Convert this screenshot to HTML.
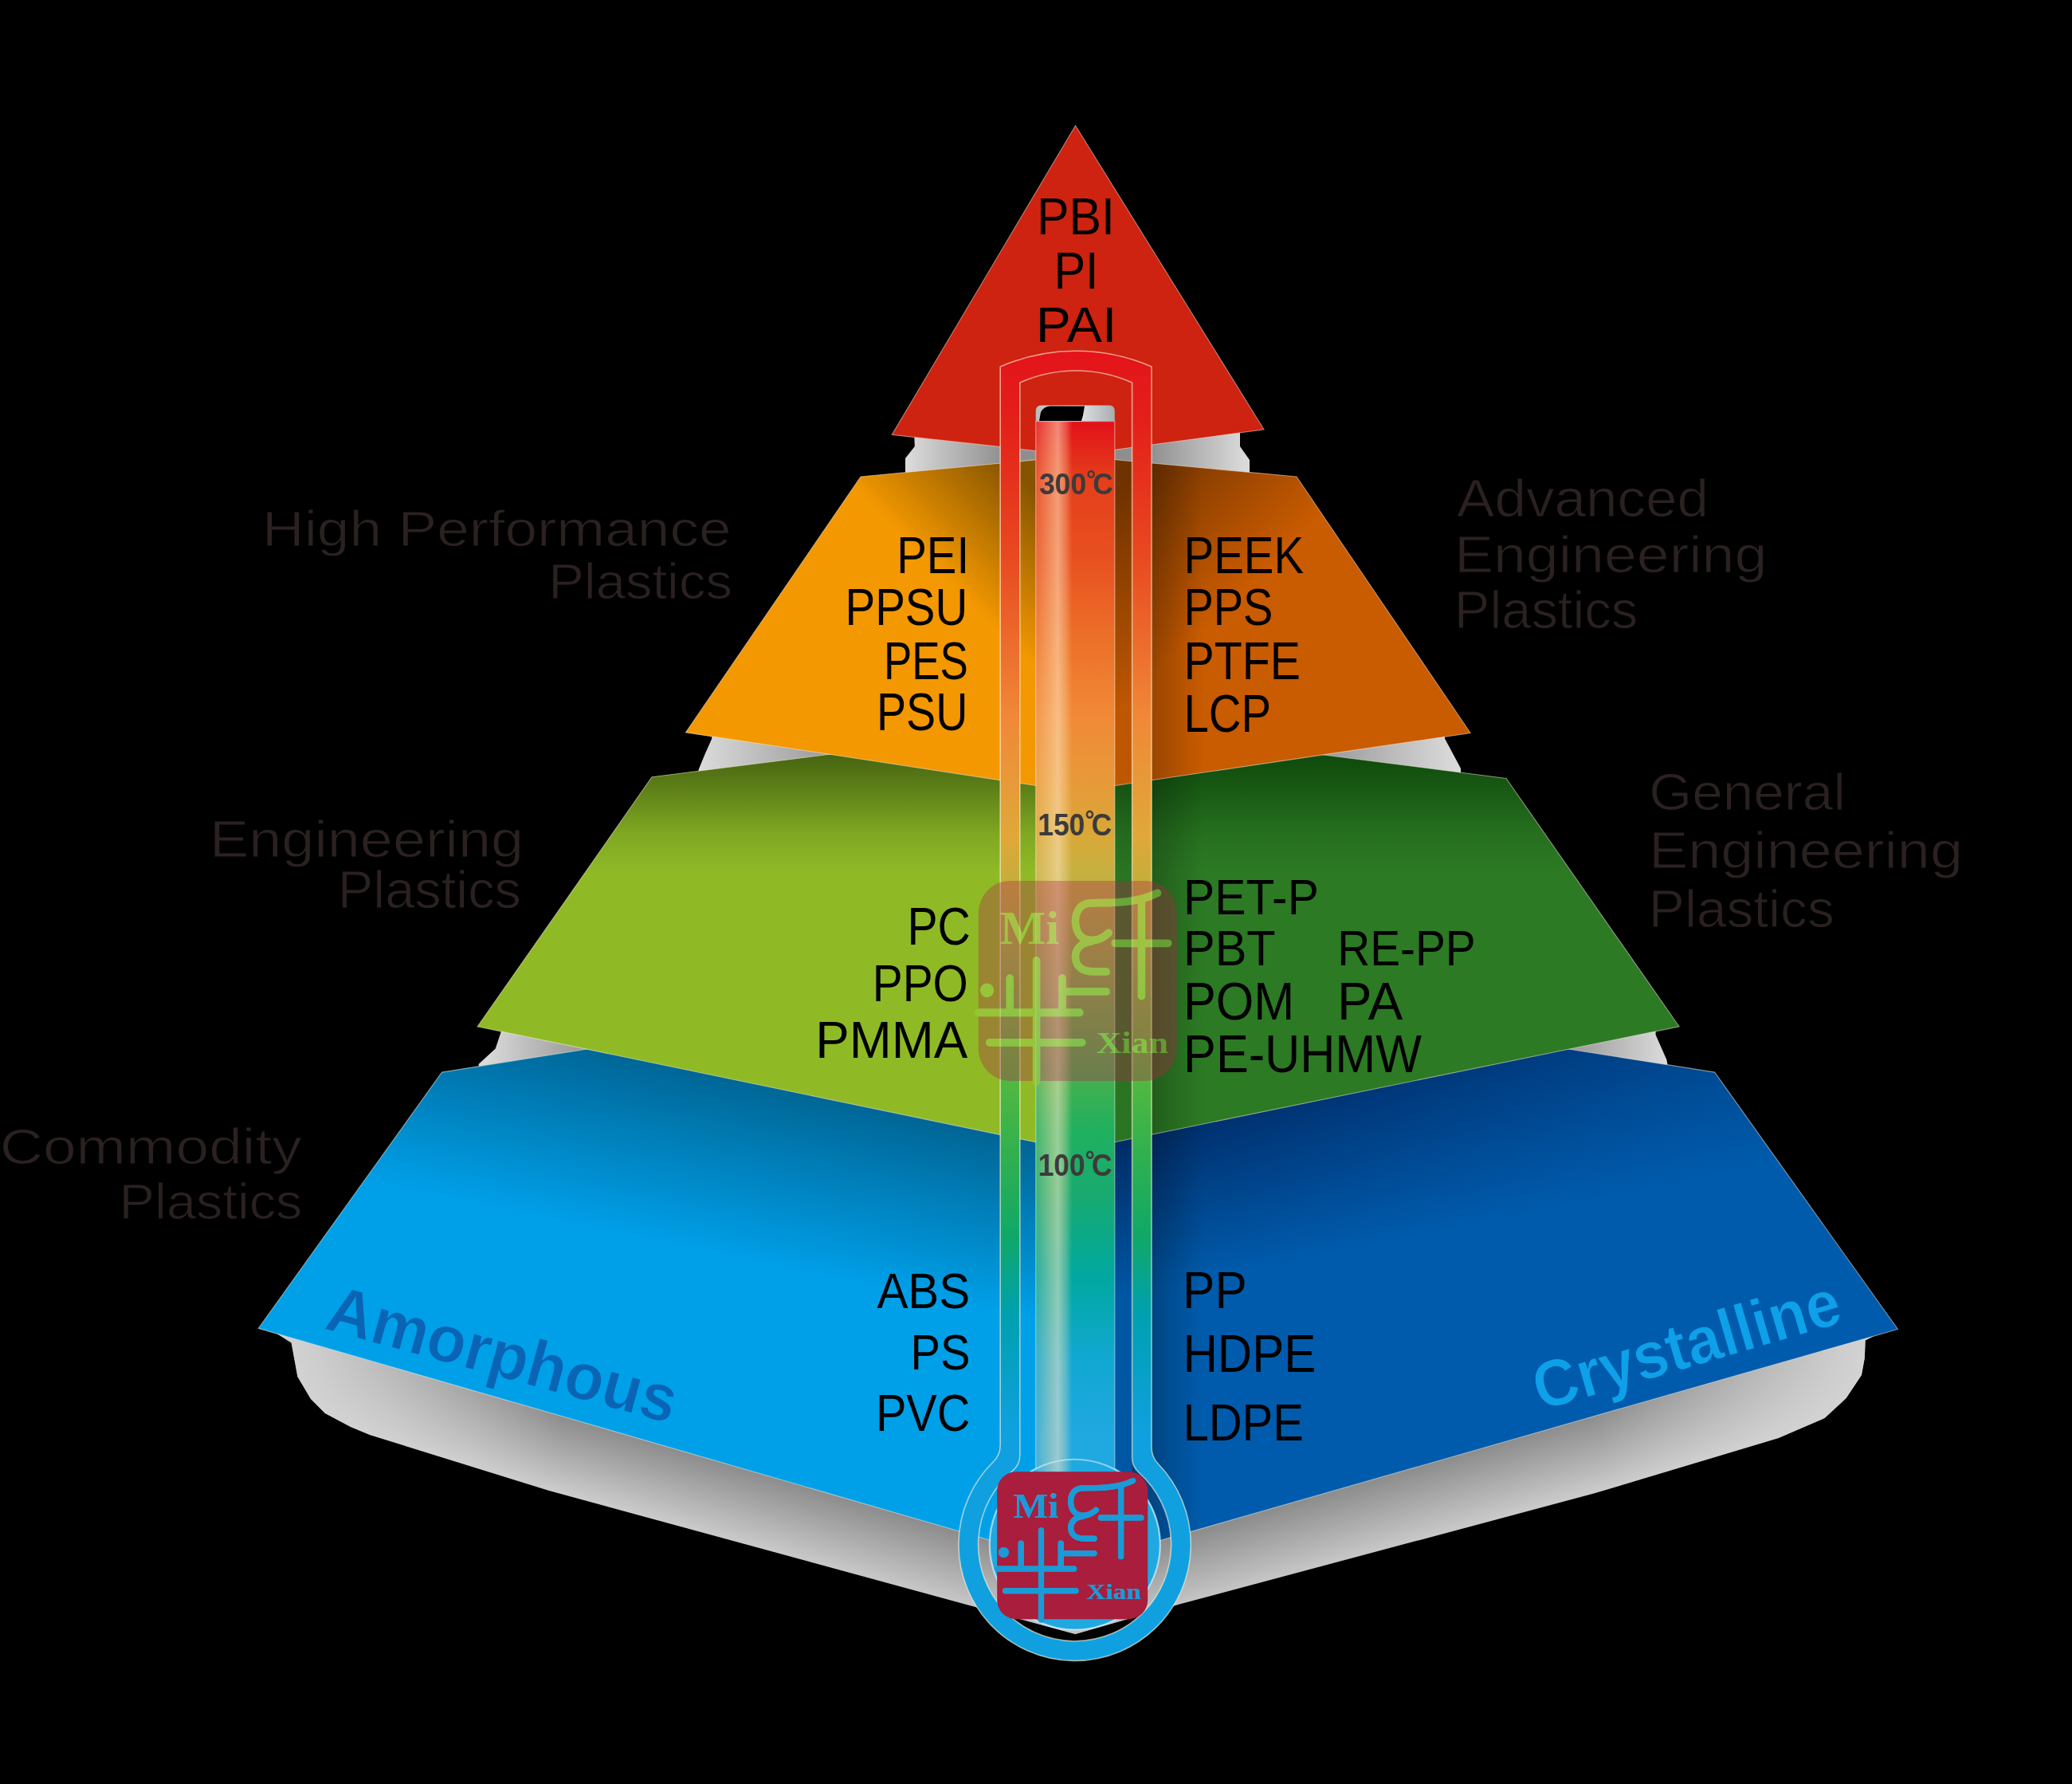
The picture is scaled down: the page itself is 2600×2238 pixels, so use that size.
<!DOCTYPE html>
<html><head><meta charset="utf-8"><style>
html,body{margin:0;padding:0;background:#000;}
svg{display:block;}
text{font-family:"Liberation Sans",sans-serif;}
text.serif{font-family:"Liberation Serif",serif;}
</style></head><body>
<svg width="2600" height="2238" viewBox="0 0 2600 2238">
<defs>
<linearGradient id="shL" gradientUnits="userSpaceOnUse" x1="700" y1="1774" x2="672" y2="1870"><stop offset="0" stop-color="#8c8c8c" stop-opacity="1"/><stop offset="1" stop-color="#d0d0d0" stop-opacity="1"/></linearGradient>
<linearGradient id="shR" gradientUnits="userSpaceOnUse" x1="2000" y1="1775" x2="2028" y2="1871"><stop offset="0" stop-color="#8c8c8c" stop-opacity="1"/><stop offset="1" stop-color="#d0d0d0" stop-opacity="1"/></linearGradient>
<linearGradient id="shLo" gradientUnits="userSpaceOnUse" x1="370" y1="1700" x2="700" y2="1800"><stop offset="0" stop-color="#d8d8d8" stop-opacity="0.9"/><stop offset="1" stop-color="#d8d8d8" stop-opacity="0"/></linearGradient>
<linearGradient id="shRo" gradientUnits="userSpaceOnUse" x1="2335" y1="1700" x2="2005" y2="1800"><stop offset="0" stop-color="#d8d8d8" stop-opacity="0.9"/><stop offset="1" stop-color="#d8d8d8" stop-opacity="0"/></linearGradient>
<linearGradient id="g1L" gradientUnits="userSpaceOnUse" x1="1140" y1="0" x2="1260" y2="0"><stop offset="0" stop-color="#dadada" stop-opacity="1"/><stop offset="1" stop-color="#8e8e8e" stop-opacity="1"/></linearGradient>
<linearGradient id="g1R" gradientUnits="userSpaceOnUse" x1="1562" y1="0" x2="1442" y2="0"><stop offset="0" stop-color="#dadada" stop-opacity="1"/><stop offset="1" stop-color="#8e8e8e" stop-opacity="1"/></linearGradient>
<linearGradient id="g2L" gradientUnits="userSpaceOnUse" x1="880" y1="0" x2="1070" y2="0"><stop offset="0" stop-color="#dadada" stop-opacity="1"/><stop offset="1" stop-color="#8e8e8e" stop-opacity="1"/></linearGradient>
<linearGradient id="g2R" gradientUnits="userSpaceOnUse" x1="1825" y1="0" x2="1635" y2="0"><stop offset="0" stop-color="#dadada" stop-opacity="1"/><stop offset="1" stop-color="#8e8e8e" stop-opacity="1"/></linearGradient>
<linearGradient id="g3L" gradientUnits="userSpaceOnUse" x1="610" y1="0" x2="750" y2="0"><stop offset="0" stop-color="#dadada" stop-opacity="1"/><stop offset="1" stop-color="#8e8e8e" stop-opacity="1"/></linearGradient>
<linearGradient id="g3R" gradientUnits="userSpaceOnUse" x1="2090" y1="0" x2="1950" y2="0"><stop offset="0" stop-color="#dadada" stop-opacity="1"/><stop offset="1" stop-color="#8e8e8e" stop-opacity="1"/></linearGradient>
<linearGradient id="tubeSh" gradientUnits="userSpaceOnUse" x1="1399" y1="0" x2="1510" y2="0"><stop offset="0" stop-color="#000" stop-opacity="0.04"/><stop offset="0.19" stop-color="#000" stop-opacity="0.06"/><stop offset="0.2" stop-color="#000" stop-opacity="0.32"/><stop offset="0.5" stop-color="#000" stop-opacity="0.2"/><stop offset="1" stop-color="#000" stop-opacity="0"/></linearGradient>
<linearGradient id="bluSL" gradientUnits="userSpaceOnUse" x1="974.0" y1="1365.4" x2="929.5" y2="1580.8"><stop offset="0" stop-color="#002a40" stop-opacity="0.5"/><stop offset="1" stop-color="#002a40" stop-opacity="0"/></linearGradient>
<linearGradient id="bluSLm" gradientUnits="userSpaceOnUse" x1="1300" y1="0" x2="560" y2="0"><stop offset="0" stop-color="#fff" stop-opacity="1"/><stop offset="1" stop-color="#fff" stop-opacity="0.95"/></linearGradient>
<mask id="bluSLM" maskUnits="userSpaceOnUse" x="0" y="0" width="2600" height="2238"><rect width="2600" height="2238" fill="url(#bluSLm)"/></mask>
<linearGradient id="bluSR" gradientUnits="userSpaceOnUse" x1="1728.0" y1="1365.4" x2="1766.2" y2="1551.5"><stop offset="0" stop-color="#001040" stop-opacity="0.6"/><stop offset="1" stop-color="#001040" stop-opacity="0"/></linearGradient>
<linearGradient id="bluSRm" gradientUnits="userSpaceOnUse" x1="1400" y1="0" x2="2140" y2="0"><stop offset="0" stop-color="#fff" stop-opacity="1"/><stop offset="1" stop-color="#fff" stop-opacity="0.55"/></linearGradient>
<mask id="bluSRM" maskUnits="userSpaceOnUse" x="0" y="0" width="2600" height="2238"><rect width="2600" height="2238" fill="url(#bluSRm)"/></mask>
<linearGradient id="grnSL" gradientUnits="userSpaceOnUse" x1="0" y1="935" x2="0" y2="1095"><stop offset="0" stop-color="#102400" stop-opacity="0.62"/><stop offset="0.35" stop-color="#102400" stop-opacity="0.38"/><stop offset="0.7" stop-color="#102400" stop-opacity="0.12"/><stop offset="1" stop-color="#102400" stop-opacity="0"/></linearGradient>
<linearGradient id="grnSR" gradientUnits="userSpaceOnUse" x1="0" y1="935" x2="0" y2="1095"><stop offset="0" stop-color="#003200" stop-opacity="0.72"/><stop offset="0.35" stop-color="#003200" stop-opacity="0.45"/><stop offset="0.7" stop-color="#003200" stop-opacity="0.14"/><stop offset="1" stop-color="#003200" stop-opacity="0"/></linearGradient>
<linearGradient id="oraSL" gradientUnits="userSpaceOnUse" x1="1262" y1="578" x2="1150" y2="690"><stop offset="0" stop-color="#000" stop-opacity="0.45"/><stop offset="1" stop-color="#000" stop-opacity="0"/></linearGradient>
<linearGradient id="oraSR" gradientUnits="userSpaceOnUse" x1="1440" y1="580" x2="1580" y2="720"><stop offset="0" stop-color="#000" stop-opacity="0.42"/><stop offset="1" stop-color="#000" stop-opacity="0"/></linearGradient>
<linearGradient id="band" gradientUnits="userSpaceOnUse" x1="0" y1="440" x2="0" y2="2083"><stop offset="0" stop-color="#e3141a" stop-opacity="1"/><stop offset="0.055" stop-color="#e3201a" stop-opacity="1"/><stop offset="0.158" stop-color="#e84a20" stop-opacity="1"/><stop offset="0.28" stop-color="#f08838" stop-opacity="1"/><stop offset="0.371" stop-color="#e0a838" stop-opacity="1"/><stop offset="0.46" stop-color="#98b840" stop-opacity="1"/><stop offset="0.56" stop-color="#50b840" stop-opacity="1"/><stop offset="0.615" stop-color="#30b050" stop-opacity="1"/><stop offset="0.676" stop-color="#10a868" stop-opacity="1"/><stop offset="0.736" stop-color="#00a0b0" stop-opacity="1"/><stop offset="0.828" stop-color="#10a0e0" stop-opacity="1"/><stop offset="1" stop-color="#10a0e0" stop-opacity="1"/></linearGradient>
<linearGradient id="merc" gradientUnits="userSpaceOnUse" x1="0" y1="528" x2="0" y2="2045"><stop offset="0" stop-color="#e3101a" stop-opacity="1"/><stop offset="0.047" stop-color="#e43e1a" stop-opacity="1"/><stop offset="0.113" stop-color="#e85020" stop-opacity="1"/><stop offset="0.18" stop-color="#ec7028" stop-opacity="1"/><stop offset="0.245" stop-color="#f08a38" stop-opacity="1"/><stop offset="0.295" stop-color="#e89838" stop-opacity="1"/><stop offset="0.344" stop-color="#d8a838" stop-opacity="1"/><stop offset="0.37" stop-color="#c8b040" stop-opacity="1"/><stop offset="0.46" stop-color="#84b248" stop-opacity="1"/><stop offset="0.548" stop-color="#40b050" stop-opacity="1"/><stop offset="0.588" stop-color="#20b060" stop-opacity="1"/><stop offset="0.64" stop-color="#18aa70" stop-opacity="1"/><stop offset="0.707" stop-color="#00a8a0" stop-opacity="1"/><stop offset="0.773" stop-color="#10a8d0" stop-opacity="1"/><stop offset="0.839" stop-color="#20a8e0" stop-opacity="1"/><stop offset="1" stop-color="#20a8e0" stop-opacity="1"/></linearGradient>
<linearGradient id="hl" gradientUnits="userSpaceOnUse" x1="1299.7" y1="0" x2="1398.8" y2="0"><stop offset="0" stop-color="#ffe0b0" stop-opacity="0.15"/><stop offset="0.2" stop-color="#ffe0b0" stop-opacity="0.45"/><stop offset="0.28" stop-color="#ffe8c8" stop-opacity="0.55"/><stop offset="0.38" stop-color="#ffe0b0" stop-opacity="0.3"/><stop offset="0.46" stop-color="#ffe0b0" stop-opacity="0.0"/><stop offset="1" stop-color="#ffffff" stop-opacity="0"/></linearGradient>
<linearGradient id="cap" gradientUnits="userSpaceOnUse" x1="1299.7" y1="0" x2="1398.8" y2="0"><stop offset="0" stop-color="#b8bcc0" stop-opacity="1"/><stop offset="0.5" stop-color="#e8eaec" stop-opacity="1"/><stop offset="1" stop-color="#a8acb0" stop-opacity="1"/></linearGradient>
<mask id="lgm1" maskUnits="userSpaceOnUse" x="-20" y="-20" width="240" height="240"><rect x="-20" y="-20" width="240" height="240" fill="#fff"/><path d="M30,90 L30,118.3 M55.3,73.6 L55.3,186 M80,90 L80,118.3 M80,102.4 L121.8,102.4 M0,121.8 L96.5,121.8 M10.6,149.5 L98.8,149.5 M155.4,17 L155.4,106.5 M130.1,57.7 L180.7,57.7 M170.7,11.2 C150,22 120,20 106.5,20.6 C96,21 92,30 92.4,38.2 C93,50 100,55 108,55 C115,55 120,52 124.2,48 M108,56 C98,57 92,63 92.4,71.2 C93,80 100,84 110,84 L121.8,84" stroke="#000" stroke-width="7.2" stroke-linecap="round" fill="none"/><circle cx="8.2" cy="101.2" r="6.5" fill="#000"/><text x="20.6" y="58.3" class="serif" font-weight="bold" font-size="44" fill="#000" textLength="56.5" lengthAdjust="spacingAndGlyphs">Mi</text><text x="112.4" y="159.5" class="serif" font-weight="bold" font-size="28" fill="#000" textLength="68.3" lengthAdjust="spacingAndGlyphs">Xian</text></mask>
<mask id="lgm2" maskUnits="userSpaceOnUse" x="-20" y="-20" width="240" height="240"><rect x="-20" y="-20" width="240" height="240" fill="#fff"/><path d="M30,90 L30,118.3 M55.3,73.6 L55.3,186 M80,90 L80,118.3 M80,102.4 L121.8,102.4 M0,121.8 L96.5,121.8 M10.6,149.5 L98.8,149.5 M155.4,17 L155.4,106.5 M130.1,57.7 L180.7,57.7 M170.7,11.2 C150,22 120,20 106.5,20.6 C96,21 92,30 92.4,38.2 C93,50 100,55 108,55 C115,55 120,52 124.2,48 M108,56 C98,57 92,63 92.4,71.2 C93,80 100,84 110,84 L121.8,84" stroke="#000" stroke-width="7.2" stroke-linecap="round" fill="none"/><circle cx="8.2" cy="101.2" r="6.5" fill="#000"/><text x="20.6" y="58.3" class="serif" font-weight="bold" font-size="44" fill="#000" textLength="56.5" lengthAdjust="spacingAndGlyphs">Mi</text><text x="112.4" y="159.5" class="serif" font-weight="bold" font-size="28" fill="#000" textLength="68.3" lengthAdjust="spacingAndGlyphs">Xian</text></mask>
</defs>
<rect width="2600" height="2238" fill="#000"/>
<polygon points="330.0,1662.0 365.6,1684.4 373.4,1726.9 390.0,1755.0 408.0,1773.0 440.0,1790.0 464.0,1800.0 688.0,1869.7 1213.0,2013.0 1349.0,2050.0 1478.0,2013.0 1349.0,1900.0" fill="url(#shL)"/>
<polygon points="1349.0,1900.0 1349.0,2050.0 1478.0,2013.0 2000.0,1873.6 2231.7,1804.0 2289.6,1779.0 2316.6,1753.9 2335.9,1725.0 2339.8,1703.7 2340.7,1681.5 2378.0,1662.0" fill="url(#shR)"/>
<polygon points="330.0,1662.0 365.6,1684.4 373.4,1726.9 390.0,1755.0 408.0,1773.0 440.0,1790.0 464.0,1800.0 688.0,1869.7 1213.0,2013.0 1349.0,2050.0 1478.0,2013.0 1349.0,1900.0" fill="url(#shLo)"/>
<polygon points="1349.0,1900.0 1349.0,2050.0 1478.0,2013.0 2000.0,1873.6 2231.7,1804.0 2289.6,1779.0 2316.6,1753.9 2335.9,1725.0 2339.8,1703.7 2340.7,1681.5 2378.0,1662.0" fill="url(#shRo)"/>
<polygon points="1147.0,540.0 1147.8,560.0 1136.0,575.0 1136.0,600.0 1349.0,600.0 1349.0,530.0" fill="url(#g1L)"/>
<polygon points="1349.0,530.0 1349.0,600.0 1568.0,600.0 1568.0,577.0 1556.0,560.0 1556.0,535.0" fill="url(#g1R)"/>
<polygon points="893.0,915.0 893.3,926.6 884.4,946.6 876.6,965.5 876.0,985.0 1349.0,1000.0 1349.0,900.0" fill="url(#g2L)"/>
<polygon points="1349.0,900.0 1349.0,1000.0 1833.0,985.0 1833.0,964.0 1813.0,926.6 1813.0,915.0" fill="url(#g2R)"/>
<polygon points="628.6,1280.0 628.6,1294.7 621.7,1315.6 600.8,1334.7 600.0,1350.0 1349.0,1360.0 1349.0,1210.0" fill="url(#g3L)"/>
<polygon points="1349.0,1210.0 1349.0,1360.0 2095.0,1350.0 2091.4,1329.5 2077.6,1298.2 2077.6,1280.0" fill="url(#g3R)"/>
<polygon points="554.5,1345.1 1349.0,1218.0 1349.0,1963.0 324.2,1666.4" fill="#00a0e9"/>
<polygon points="1349.0,1218.0 2151.6,1345.1 2381.4,1667.5 1349.0,1963.0" fill="#005bac"/>
<polygon points="554.5,1345.1 1349.0,1218.0 1349.0,1963.0 324.2,1666.4" fill="url(#bluSL)" mask="url(#bluSLM)"/>
<polygon points="1349.0,1218.0 2151.6,1345.1 2381.4,1667.5 1349.0,1963.0" fill="url(#bluSR)" mask="url(#bluSRM)"/>
<polygon points="1349.0,1218.0 2151.6,1345.1 2381.4,1667.5 1349.0,1963.0" fill="url(#tubeSh)"/>
<polygon points="554.5,1345.1 1349.0,1218.0 2151.6,1345.1 2381.4,1667.5 1349.0,1963.0 324.2,1666.4" fill="none" stroke="#fff0e0" stroke-opacity="0.5" stroke-width="1.1"/>
<polygon points="818.0,974.7 1349.0,907.0 1349.0,1443.0 599.1,1287.8" fill="#8fba26"/>
<polygon points="1349.0,907.0 1890.0,976.4 2107.1,1287.8 1349.0,1443.0" fill="#2c7a24"/>
<polygon points="818.0,974.7 1349.0,907.0 1349.0,1443.0 599.1,1287.8" fill="url(#grnSL)"/>
<polygon points="1349.0,907.0 1890.0,976.4 2107.1,1287.8 1349.0,1443.0" fill="url(#grnSR)"/>
<polygon points="1349.0,907.0 1890.0,976.4 2107.1,1287.8 1349.0,1443.0" fill="url(#tubeSh)"/>
<polygon points="818.0,974.7 1349.0,907.0 1890.0,976.4 2107.1,1287.8 1349.0,1443.0 599.1,1287.8" fill="none" stroke="#fff0e0" stroke-opacity="0.5" stroke-width="1.1"/>
<polygon points="1080.0,598.0 1349.0,572.0 1349.0,993.0 860.4,918.9" fill="#f39800"/>
<polygon points="1349.0,572.0 1627.0,598.0 1845.2,919.5 1349.0,993.0" fill="#c95b00"/>
<polygon points="1080.0,598.0 1349.0,572.0 1349.0,993.0 860.4,918.9" fill="url(#oraSL)"/>
<polygon points="1349.0,572.0 1627.0,598.0 1845.2,919.5 1349.0,993.0" fill="url(#oraSR)"/>
<polygon points="1349.0,572.0 1627.0,598.0 1845.2,919.5 1349.0,993.0" fill="url(#tubeSh)"/>
<polygon points="1080.0,598.0 1349.0,572.0 1627.0,598.0 1845.2,919.5 1349.0,993.0 860.4,918.9" fill="none" stroke="#fff0e0" stroke-opacity="0.5" stroke-width="1.1"/>
<polygon points="1349.5,157.5 1586.0,538.8 1349.0,571.0 1119.2,545.4" fill="#cd2310" stroke="#fff0e0" stroke-opacity="0.5" stroke-width="1.1"/>
<text x="0" y="0" font-size="83" font-weight="bold" fill="#0a64b4" stroke="#00a0e9" stroke-width="1" textLength="452" lengthAdjust="spacingAndGlyphs" transform="translate(405.3,1666.8) rotate(15.3)">Amorphous</text>
<text x="0" y="0" font-size="83" font-weight="bold" fill="#0ea0e8" stroke="#005bac" stroke-width="1" textLength="398" lengthAdjust="spacingAndGlyphs" transform="translate(1933,1770) rotate(-16.3)">Crystalline</text>
<text x="1300.9" y="294.3" font-size="63.92" fill="#000" font-weight="normal" textLength="98.0" lengthAdjust="spacingAndGlyphs" >PBI</text>
<text x="1322.4" y="361.8" font-size="64.69" fill="#000" font-weight="normal" textLength="56.2" lengthAdjust="spacingAndGlyphs" >PI</text>
<text x="1299.7" y="429.4" font-size="63.77" fill="#000" font-weight="normal" textLength="101.6" lengthAdjust="spacingAndGlyphs" >PAI</text>
<text x="1125.2" y="719.2" font-size="65.47" fill="#000" font-weight="normal" textLength="90.9" lengthAdjust="spacingAndGlyphs" >PEI</text>
<text x="1060.5" y="784.2" font-size="65.47" fill="#000" font-weight="normal" textLength="153.7" lengthAdjust="spacingAndGlyphs" >PPSU</text>
<text x="1108.9" y="851.5" font-size="66.55" fill="#000" font-weight="normal" textLength="105.9" lengthAdjust="spacingAndGlyphs" >PES</text>
<text x="1100.0" y="916.0" font-size="65.77" fill="#000" font-weight="normal" textLength="114.3" lengthAdjust="spacingAndGlyphs" >PSU</text>
<text x="1485.6" y="719.2" font-size="65.47" fill="#000" font-weight="normal" textLength="150.4" lengthAdjust="spacingAndGlyphs" >PEEK</text>
<text x="1485.5" y="784.2" font-size="65.47" fill="#000" font-weight="normal" textLength="111.9" lengthAdjust="spacingAndGlyphs" >PPS</text>
<text x="1485.6" y="851.5" font-size="66.55" fill="#000" font-weight="normal" textLength="146.4" lengthAdjust="spacingAndGlyphs" >PTFE</text>
<text x="1485.5" y="917.6" font-size="66.39" fill="#000" font-weight="normal" textLength="109.5" lengthAdjust="spacingAndGlyphs" >LCP</text>
<text x="1138.4" y="1184.9" font-size="65.93" fill="#000" font-weight="normal" textLength="79.3" lengthAdjust="spacingAndGlyphs" >PC</text>
<text x="1094.7" y="1256.1" font-size="65.62" fill="#000" font-weight="normal" textLength="120.2" lengthAdjust="spacingAndGlyphs" >PPO</text>
<text x="1023.3" y="1327.4" font-size="65.17" fill="#000" font-weight="normal" textLength="190.9" lengthAdjust="spacingAndGlyphs" >PMMA</text>
<text x="1485.0" y="1146.7" font-size="63.09" fill="#000" font-weight="normal" textLength="169.9" lengthAdjust="spacingAndGlyphs" >PET-P</text>
<text x="1485.0" y="1211.0" font-size="62.92" fill="#000" font-weight="normal" textLength="115.7" lengthAdjust="spacingAndGlyphs" >PBT</text>
<text x="1678.2" y="1211.0" font-size="62.92" fill="#000" font-weight="normal" textLength="173.4" lengthAdjust="spacingAndGlyphs" >RE-PP</text>
<text x="1484.9" y="1278.7" font-size="66.23" fill="#000" font-weight="normal" textLength="139.3" lengthAdjust="spacingAndGlyphs" >POM</text>
<text x="1678.0" y="1278.7" font-size="66.23" fill="#000" font-weight="normal" textLength="82.2" lengthAdjust="spacingAndGlyphs" >PA</text>
<text x="1485.1" y="1344.8" font-size="66.08" fill="#000" font-weight="normal" textLength="298.9" lengthAdjust="spacingAndGlyphs" >PE-UHMW</text>
<text x="1100.4" y="1640.9" font-size="62.78" fill="#000" font-weight="normal" textLength="116.9" lengthAdjust="spacingAndGlyphs" >ABS</text>
<text x="1142.6" y="1718.1" font-size="62.49" fill="#000" font-weight="normal" textLength="74.9" lengthAdjust="spacingAndGlyphs" >PS</text>
<text x="1098.9" y="1795.4" font-size="64.81" fill="#000" font-weight="normal" textLength="118.5" lengthAdjust="spacingAndGlyphs" >PVC</text>
<text x="1484.1" y="1641.0" font-size="65.67" fill="#000" font-weight="normal" textLength="80.6" lengthAdjust="spacingAndGlyphs" >PP</text>
<text x="1484.4" y="1720.6" font-size="66.26" fill="#000" font-weight="normal" textLength="167.0" lengthAdjust="spacingAndGlyphs" >HDPE</text>
<text x="1484.4" y="1807.4" font-size="65.09" fill="#000" font-weight="normal" textLength="151.7" lengthAdjust="spacingAndGlyphs" >LDPE</text>
<text x="328.9" y="684.7" font-size="63.27" fill="#2b2121" font-weight="normal" textLength="588.7" lengthAdjust="spacingAndGlyphs" stroke="#000" stroke-width="1.0" paint-order="fill">High Performance</text>
<text x="688.2" y="750.6" font-size="63.69" fill="#2b2121" font-weight="normal" textLength="230.7" lengthAdjust="spacingAndGlyphs" stroke="#000" stroke-width="1.0" paint-order="fill">Plastics</text>
<text x="263.0" y="1074.6" font-size="65.65" fill="#2b2121" font-weight="normal" textLength="394.1" lengthAdjust="spacingAndGlyphs" stroke="#000" stroke-width="1.0" paint-order="fill">Engineering</text>
<text x="423.8" y="1138.8" font-size="67.12" fill="#2b2121" font-weight="normal" textLength="230.2" lengthAdjust="spacingAndGlyphs" stroke="#000" stroke-width="1.0" paint-order="fill">Plastics</text>
<text x="-0.2" y="1459.7" font-size="63.83" fill="#2b2121" font-weight="normal" textLength="379.0" lengthAdjust="spacingAndGlyphs" stroke="#000" stroke-width="1.0" paint-order="fill">Commodity</text>
<text x="149.6" y="1529.0" font-size="63.13" fill="#2b2121" font-weight="normal" textLength="229.9" lengthAdjust="spacingAndGlyphs" stroke="#000" stroke-width="1.0" paint-order="fill">Plastics</text>
<text x="1828.0" y="648.0" font-size="66.48" fill="#2b2121" font-weight="normal" textLength="316.1" lengthAdjust="spacingAndGlyphs" stroke="#000" stroke-width="1.0" paint-order="fill">Advanced</text>
<text x="1824.9" y="717.9" font-size="64.95" fill="#2b2121" font-weight="normal" textLength="392.5" lengthAdjust="spacingAndGlyphs" stroke="#000" stroke-width="1.0" paint-order="fill">Engineering</text>
<text x="1824.8" y="787.8" font-size="66.30" fill="#2b2121" font-weight="normal" textLength="230.3" lengthAdjust="spacingAndGlyphs" stroke="#000" stroke-width="1.0" paint-order="fill">Plastics</text>
<text x="2069.3" y="1015.7" font-size="65.22" fill="#2b2121" font-weight="normal" textLength="246.5" lengthAdjust="spacingAndGlyphs" stroke="#000" stroke-width="1.0" paint-order="fill">General</text>
<text x="2068.9" y="1089.0" font-size="63.98" fill="#2b2121" font-weight="normal" textLength="394.1" lengthAdjust="spacingAndGlyphs" stroke="#000" stroke-width="1.0" paint-order="fill">Engineering</text>
<text x="2068.8" y="1162.8" font-size="66.30" fill="#2b2121" font-weight="normal" textLength="232.9" lengthAdjust="spacingAndGlyphs" stroke="#000" stroke-width="1.0" paint-order="fill">Plastics</text>
<path d="M1255.2,460 A238,238 0 0 1 1445.0,460 L1445.00,1815.66 A30,30 0 0 0 1453.42,1836.50 A145.7,145.7 0 1 1 1246.27,1833.98 A30,30 0 0 0 1255.20,1812.63 Z M1279.8,480 A172,172 0 0 1 1420.6,480 L1420.60,1828.58 A25,25 0 0 0 1428.99,1847.27 A121.0,121.0 0 1 1 1270.86,1844.98 A25,25 0 0 0 1279.80,1825.82 Z" fill="url(#band)" fill-rule="evenodd" stroke="#fff4d8" stroke-opacity="0.6" stroke-width="1.6"/>
<path d="M1299.7,528.5 L1398.8,528.5 L1398.8,1842.5 A107,107 0 1 1 1299.7,1842.5 Z" fill="url(#merc)"/>
<rect x="1299.7" y="528.5" width="99.1" height="1374.0" fill="url(#hl)"/>
<path d="M1299.7,528.5 L1398.8,528.5 L1398.8,1842.5 A107,107 0 1 1 1299.7,1842.5 Z" fill="none" stroke="#ffffff" stroke-opacity="0.35" stroke-width="1.5"/>
<path d="M1299.7,528.5 L1299.7,516 Q1299.7,508.6 1307,508.6 L1391.5,508.6 Q1398.8,508.6 1398.8,516 L1398.8,528.5 Z" fill="url(#cap)"/>
<path d="M1304,528 L1306,517 Q1310,509.5 1318,509.5 L1361,509.5 L1359,521 L1357,528 Z" fill="#000"/>
<text x="1304.0" y="620.4" font-size="36.87" fill="#3d3a3a" font-weight="bold" textLength="92.3" lengthAdjust="spacingAndGlyphs" >300<tspan dy="-8" font-size="85%">&#176;</tspan><tspan dy="8" dx="-4">C</tspan></text>
<text x="1302.3" y="1048.3" font-size="38.69" fill="#3d3a3a" font-weight="bold" textLength="92.7" lengthAdjust="spacingAndGlyphs" >150<tspan dy="-8" font-size="85%">&#176;</tspan><tspan dy="8" dx="-4">C</tspan></text>
<text x="1302.7" y="1475.2" font-size="38.69" fill="#3d3a3a" font-weight="bold" textLength="92.8" lengthAdjust="spacingAndGlyphs" >100<tspan dy="-8" font-size="85%">&#176;</tspan><tspan dy="8" dx="-4">C</tspan></text>
<circle cx="1348.6" cy="1937.7" r="107" fill="none" stroke="#d0f0ff" stroke-opacity="0.6" stroke-width="2"/>
<g transform="translate(1251.2,1846.2) scale(1.0000,1.0000)">
<rect x="0" y="0" width="189" height="185" rx="24" fill="#a81e3c" fill-opacity="1" mask="url(#lgm1)"/>
<g fill-opacity="1" stroke-opacity="1">
<path d="M30,90 L30,118.3 M55.3,73.6 L55.3,186 M80,90 L80,118.3 M80,102.4 L121.8,102.4 M0,121.8 L96.5,121.8 M10.6,149.5 L98.8,149.5 M155.4,17 L155.4,106.5 M130.1,57.7 L180.7,57.7 M170.7,11.2 C150,22 120,20 106.5,20.6 C96,21 92,30 92.4,38.2 C93,50 100,55 108,55 C115,55 120,52 124.2,48 M108,56 C98,57 92,63 92.4,71.2 C93,80 100,84 110,84 L121.8,84" stroke="#1a9ad6" stroke-width="7.2" stroke-linecap="round" fill="none"/><circle cx="8.2" cy="101.2" r="6.5" fill="#1a9ad6"/>
<text x="20.6" y="58.3" class="serif" font-weight="bold" font-size="44" fill="#1a9ad6" textLength="56.5" lengthAdjust="spacingAndGlyphs">Mi</text>
<text x="112.4" y="159.5" class="serif" font-weight="bold" font-size="28" fill="#1a9ad6" textLength="68.3" lengthAdjust="spacingAndGlyphs">Xian</text>
</g></g>
<g transform="translate(1227.7,1105) scale(1.3175,1.3568)">
<rect x="0" y="0" width="189" height="185" rx="30" fill="#b02848" fill-opacity="0.36" mask="url(#lgm2)"/>
<g fill-opacity="0.55" stroke-opacity="0.55">
<path d="M30,90 L30,118.3 M55.3,73.6 L55.3,186 M80,90 L80,118.3 M80,102.4 L121.8,102.4 M0,121.8 L96.5,121.8 M10.6,149.5 L98.8,149.5 M155.4,17 L155.4,106.5 M130.1,57.7 L180.7,57.7 M170.7,11.2 C150,22 120,20 106.5,20.6 C96,21 92,30 92.4,38.2 C93,50 100,55 108,55 C115,55 120,52 124.2,48 M108,56 C98,57 92,63 92.4,71.2 C93,80 100,84 110,84 L121.8,84" stroke="#a0cc48" stroke-width="7.2" stroke-linecap="round" fill="none"/><circle cx="8.2" cy="101.2" r="6.5" fill="#a0cc48"/>
<text x="20.6" y="58.3" class="serif" font-weight="bold" font-size="44" fill="#a0cc48" textLength="56.5" lengthAdjust="spacingAndGlyphs">Mi</text>
<text x="112.4" y="159.5" class="serif" font-weight="bold" font-size="28" fill="#a0cc48" textLength="68.3" lengthAdjust="spacingAndGlyphs">Xian</text>
</g></g>
</svg>
</body></html>
